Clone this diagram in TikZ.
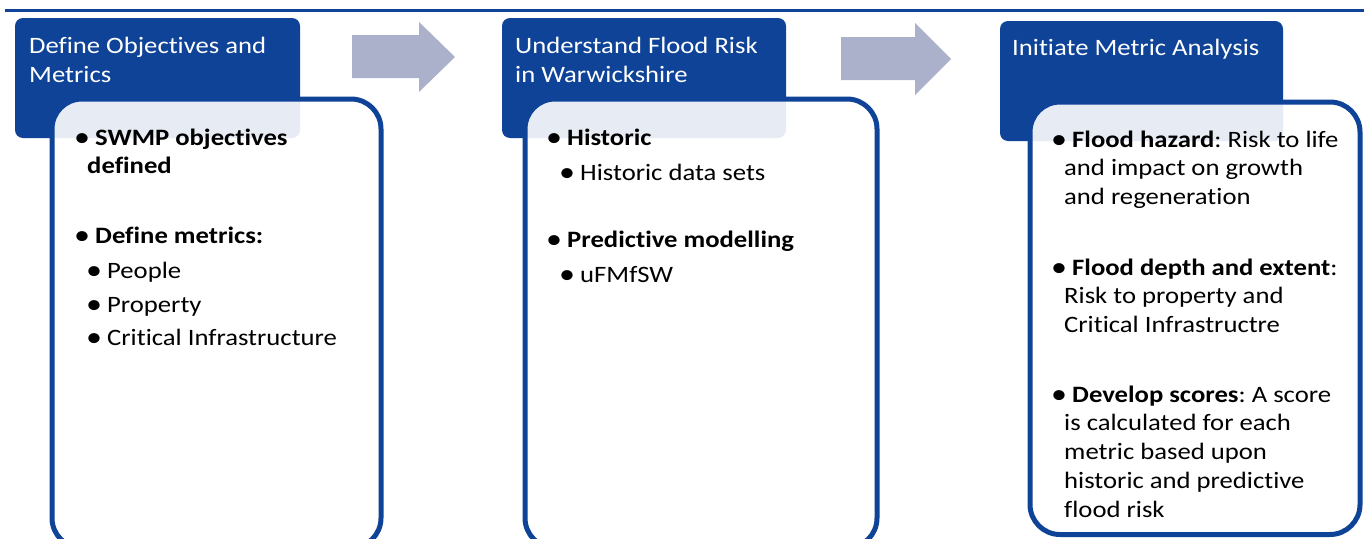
\documentclass[tikz,border=0pt]{standalone}
\usepackage{fontspec}
\setmainfont[FakeStretch=1.135,RawFeature={-liga;-dlig;-clig}]{Carlito}
\definecolor{hdr}{RGB}{14,67,152}
\definecolor{arr}{RGB}{171,176,203}
\newcommand{\bl}{\makebox[18pt][l]{\kern-3pt\raisebox{-1.3pt}{\scalebox{1.2}{•}}}}
\newcommand{\ind}{\hspace*{10pt}}
\tikzset{
  hdrbox/.style={fill=hdr, rounded corners=8pt},
  innerbox/.style={draw=hdr, line width=5pt, fill=white, fill opacity=0.9, draw opacity=1, rounded corners=30pt},
  blockarrow/.style={fill=arr},
  txt/.style={anchor=base west, inner sep=0pt, font=\fontsize{23.5}{28.8}\selectfont\frenchspacing},
  htxt/.style={txt, text=white},
}
\begin{document}
\begin{tikzpicture}[x=1pt,y=-1pt]
\useasboundingbox (0,0) rectangle (1364,538);
\clip (0,0) rectangle (1364,538);
% top rule
\draw[hdr, line width=3pt] (5,10.5) -- (1364,10.5);
% arrows
\fill[blockarrow] (352,35) -- (419,35) -- (419,22) -- (455,57) -- (419,92) -- (419,78) -- (352,78) -- cycle;
\fill[blockarrow] (841,37) -- (915,37) -- (915,23) -- (951,59) -- (915,95) -- (915,80) -- (841,80) -- cycle;
% column 1
\fill[hdrbox] (15,18) rectangle (300,138);
\draw[innerbox] (52,99) rectangle (381,548);
\node[htxt] (h1a) at (29,53) {Define Objectives and};
\node[htxt] (h1b) at (29,82) {Metrics};
\node[txt] (a1) at (77,145) {\parbox[t]{300pt}{\raggedright\frenchspacing\bl\textbf{SWMP objectives}\\\ind\textbf{defined}}};
\node[txt] (a2) at (77,243) {\bl\textbf{Define metrics:}};
\node[txt] (a3) at (89,278) {\bl People};
\node[txt] (a4) at (89,312) {\bl Property};
\node[txt] (a5) at (89,345) {\bl Critical Infrastructure};
% column 2
\fill[hdrbox] (502,18) rectangle (786,138);
\draw[innerbox] (525,99) rectangle (877,548);
\node[htxt] (h2a) at (515,53) {Understand Flood Risk};
\node[htxt] (h2b) at (515,82) {in Warwickshire};
\node[txt] (b1) at (549,145) {\bl\textbf{Historic}};
\node[txt] (b2) at (562,180) {\bl Historic data sets};
\node[txt] (b3) at (549,247) {\bl\textbf{Predictive modelling}};
\node[txt] (b4) at (562,282) {\bl uFMfSW};
% column 3
\fill[hdrbox] (1000,21) rectangle (1283,141);
\draw[innerbox] (1030,102) rectangle (1360,534.5);
\node[htxt] (h3a) at (1012,55) {Initiate Metric Analysis};
\node[txt] (c1) at (1054,147) {\parbox[t]{320pt}{\raggedright\frenchspacing\bl\textbf{Flood hazard}: Risk to life\\\ind and impact on growth\\\ind and regeneration}};
\node[txt] (c2) at (1054,275) {\parbox[t]{320pt}{\raggedright\frenchspacing\bl\textbf{Flood depth and extent}:\\\ind Risk to property and\\\ind Critical Infrastructre}};
\node[txt] (c3) at (1054,402) {\parbox[t]{320pt}{\raggedright\frenchspacing\bl\textbf{Develop scores}: A score\\\ind is calculated for each\\\ind metric based upon\\\ind historic and predictive\\\ind flood risk}};
\end{tikzpicture}
\end{document}
